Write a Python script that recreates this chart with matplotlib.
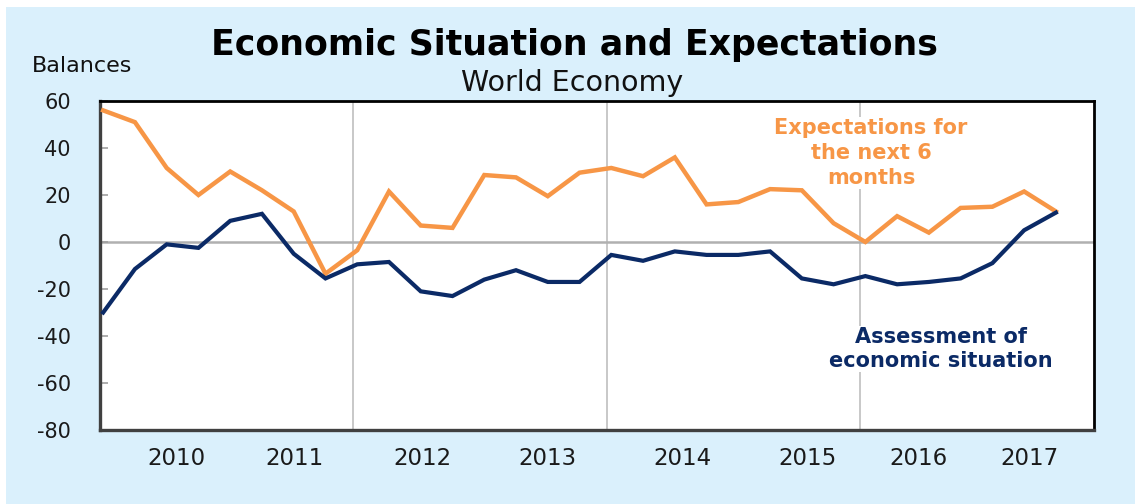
import matplotlib
matplotlib.use("Agg")
import matplotlib.pyplot as plt
from matplotlib.patches import Rectangle

# quarterly survey balances, 2009Q3 .. 2017Q1
quarters = [f"{y}Q{q}" for y in range(2009, 2018) for q in range(1, 5)][2:33]
expectations = [56, 51, 31.5, 20, 30, 22, 13, -13.5, -3.5, 21.5, 7, 6, 28.5, 27.5, 19.5,
                29.5, 31.5, 28, 36, 16, 17, 22.5, 22, 8, 0, 11, 4, 14.5, 15, 21.5, 13]
assessment = [-30, -11.5, -1, -2.5, 9, 12, -5, -15.5, -9.5, -8.5, -21, -23, -16, -12, -17,
              -17, -5.5, -8, -4, -5.5, -5.5, -4, -15.5, -18, -14.5, -18, -17, -15.5, -9, 5, 12.5]
year_labels = ["2010", "2011", "2012", "2013", "2014", "2015", "2016", "2017"]
year_pos = [2.32, 6.02, 10.05, 13.98, 18.24, 22.17, 25.67, 29.17]
grid_pos = [7.86, 15.85, 23.84]
y_ticks = [60, 40, 20, 0, -20, -40, -60, -80]

ORANGE = "#F79646"
NAVY = "#0B2A66"
BG = "#DAF0FC"
W, H = 1135, 504

def fx(px):
    return px / W

def fy(py):
    return 1 - py / H

fig = plt.figure(figsize=(W / 100, H / 100), dpi=100)
fig.patch.set_facecolor("white")
fig.patches.append(Rectangle((fx(6), 0), 1 - fx(6), fy(7), transform=fig.transFigure,
                             facecolor=BG, edgecolor="none", zorder=-10))

ax = fig.add_axes([fx(100), fy(430), fx(1094) - fx(100), fy(101) - fy(430)])
ax.set_facecolor("white")

x = list(range(len(quarters)))
for g in grid_pos:
    ax.axvline(g, color="#BFBFBF", lw=1.2, zorder=1)
ax.axhline(0, color="#B0B0B0", lw=1.8, zorder=1)

ax.plot(x, expectations, color=ORANGE, lw=3.2, zorder=3, solid_joinstyle="miter")
ax.plot(x, assessment, color=NAVY, lw=3.0, zorder=4, solid_joinstyle="miter")

ax.set_xlim(-0.1, 31.2)
ax.set_ylim(-80, 60)
ax.set_yticks(y_ticks)
ax.set_yticklabels([str(v) for v in y_ticks])
ax.set_xticks(year_pos)
ax.set_xticklabels(year_labels)
ax.tick_params(axis="y", direction="in", length=6, width=1.2, color="#A0A0A0",
               pad=21, labelsize=15, labelcolor="#1A1A1A")
ax.tick_params(axis="x", length=0, pad=12, labelsize=16.5, labelcolor="#1A1A1A")

for side in ["top", "right"]:
    ax.spines[side].set_color("black")
    ax.spines[side].set_linewidth(2.0)
for side in ["left", "bottom"]:
    ax.spines[side].set_color("#404040")
    ax.spines[side].set_linewidth(2.4)

fig.text(fx(574), fy(55), "Economic Situation and Expectations", ha="center", va="baseline",
         fontsize=25, fontweight="bold", color="black")
fig.text(fx(572), fy(91), "World Economy", ha="center", va="baseline",
         fontsize=20.5, color="#111111")
fig.text(fx(32), fy(72), "Balances", ha="left", va="baseline", fontsize=16, color="#111111")

# labels sit above the gridlines but under the series lines
ax.text(fx(871), fy(153), "Expectations for\nthe next 6\nmonths", transform=fig.transFigure,
        ha="center", va="center", multialignment="center", fontsize=15, fontweight="bold",
        color=ORANGE, linespacing=1.3, zorder=2,
        bbox=dict(facecolor="white", edgecolor="none", pad=1))
ax.text(fx(941), fy(349), "Assessment of\neconomic situation", transform=fig.transFigure,
        ha="center", va="center", multialignment="center", fontsize=15, fontweight="bold",
        color=NAVY, linespacing=1.25, zorder=2,
        bbox=dict(facecolor="white", edgecolor="none", pad=1))

fig.savefig("out.png", dpi=100, facecolor=fig.get_facecolor())
